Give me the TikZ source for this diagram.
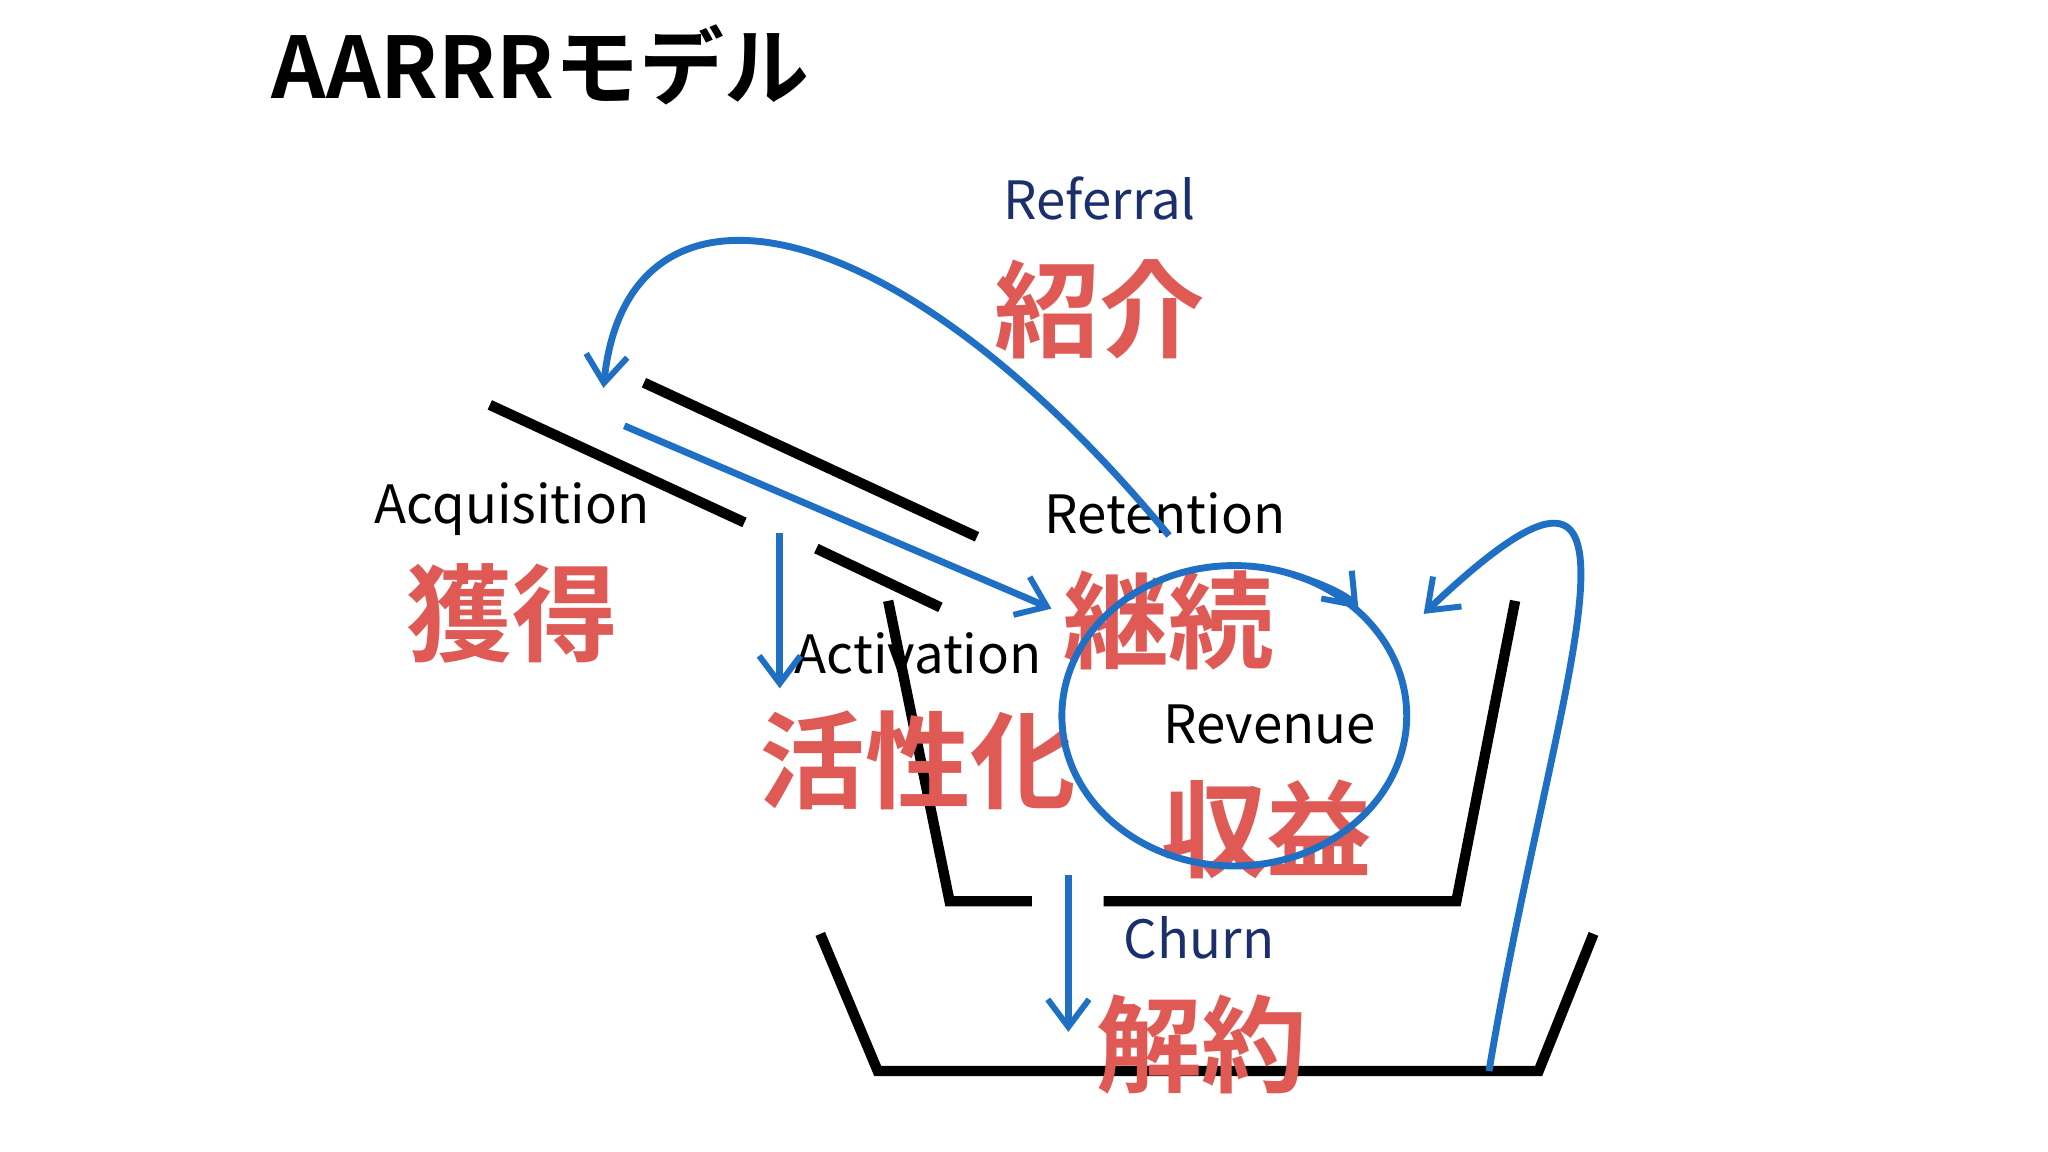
\documentclass[tikz,border=0pt]{standalone}
\usepackage{fontspec}
\setmainfont{Noto Sans CJK JP}
\newfontfamily\jpb{Noto Sans CJK JP Bold}
\usetikzlibrary{arrows.meta}
\definecolor{navy}{HTML}{1A2F6B}
\definecolor{jred}{HTML}{E05A55}
\definecolor{pen}{HTML}{1F6FC4}
\tikzset{
 wall/.style={line width=4.5pt},
 flow/.style={draw=pen,line width=3pt,-{Straight Barb[length=12pt,width=18pt,line width=2.6pt]}},
 en/.style={font=\fontsize{23}{25}\selectfont},
 jp/.style={text=jred,font=\jpb\fontsize{46}{48}\selectfont},
}
\begin{document}
\begin{tikzpicture}[x=0.02cm,y=-0.02cm]
\useasboundingbox (0,0) rectangle (1568,882);
\node[anchor=west,font=\jpb\fontsize{37}{39}\selectfont] (title) at (202,50) {AARRRモデル};
% walls
\draw[wall] (493,293) -- (748,411);
\draw[wall] (375,310) -- (570,400);
\draw[wall] (625,420) -- (720,465);
\draw[wall] (680,460) -- (727,690) -- (790,690);
\draw[wall] (845,690) -- (1115,690) -- (1160,460);
\draw[wall] (628,715) -- (672,820) -- (1178,820) -- (1220,715);
% texts
\node[en,text=navy] (ref) at (842,152) {Referral};
\node[jp] (refj) at (842,237) {紹介};
\node[en] (acq) at (392,390) {Acquisition};
\node[jp] (acqj) at (392,470) {獲得};
\node[en] (ret) at (892,393) {Retention};
\node[jp] (retj) at (895,475) {継続};
\node[en] (act) at (703,500) {Activation};
\node[jp] (actj) at (703,582) {活性化};
\node[en] (rev) at (972,555) {Revenue};
\node[jp] (revj) at (970,635) {収益};
\node[en,text=navy] (ch) at (918,718) {Churn};
\node[jp] (chj) at (920,800) {解約};
% arrows
\coordinate (r0) at (895,410); \coordinate (r1) at (462,297);
\draw[flow] (r0) .. controls (680,150) and (480,120) .. (r1);
\coordinate (a0) at (478,326); \coordinate (a1) at (805,466);
\draw[flow] (a0) -- (a1);
\coordinate (v0) at (597,408); \coordinate (v1) at (597,527);
\draw[flow] (v0) -- (v1);
\coordinate (c0) at (818,670); \coordinate (c1) at (818,790);
\draw[flow] (c0) -- (c1);
\draw[draw=pen,line width=3pt] (945,548) ellipse [x radius=132, y radius=115];
\coordinate (e0) at (990,440); \coordinate (e1) at (1040,466);
\draw[flow] (e0) .. controls (1010,446) and (1030,455) .. (e1);
\coordinate (l0) at (1140,820); \coordinate (l1) at (1090,470);
\draw[flow] (l0) .. controls (1190,520) and (1290,280) .. (l1);
\end{tikzpicture}
\end{document}
